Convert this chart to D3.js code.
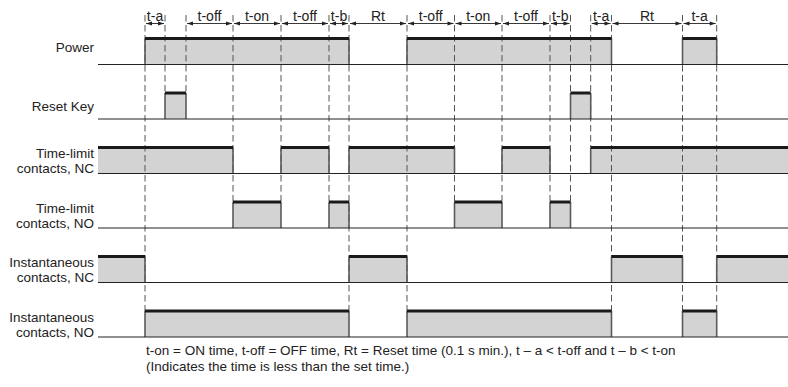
<!DOCTYPE html>
<html><head><meta charset="utf-8">
<script src="https://cdn.jsdelivr.net/npm/d3@7"></script>
<style>
html,body{margin:0;padding:0;background:#fff;}
svg{display:block;font-family:"Liberation Sans",Arial,sans-serif;}
</style></head>
<body><svg id="c" width="788" height="387"></svg>
<script>
// ---- data (time units along the horizontal axis) ----
const timeDomain = [0, 690];
const signalLabels = [["Power"], ["Reset Key"], ["Time-limit", "contacts, NC"], ["Time-limit", "contacts, NO"], ["Instantaneous", "contacts, NC"], ["Instantaneous", "contacts, NO"]];
const powerOn = [[47, 251], [309, 513.5], [584.5, 618.7]];
const resetKeyOn = [[67, 88], [472.5, 492.7]];
const timeLimitNC = [[0, 135], [183, 231], [251, 356.5], [404, 452], [492.7, 690]];
const timeLimitNO = [[135, 183], [231, 251], [356.5, 404], [452, 472.5]];
const instantNC = [[0, 47], [251, 309], [513.5, 584.5], [618.7, 690]];
const instantNO = [[47, 251], [309, 513.5], [584.5, 618.7]];
const intervalStarts = [47, 88, 135, 183, 231, 251, 309, 356.5, 404, 452, 492.7, 513.5, 584.5];
const intervalEnds = [67, 135, 183, 231, 251, 309, 356.5, 404, 452, 472.5, 513.5, 584.5, 618.7];
const intervalNames = ["t-a", "t-off", "t-on", "t-off", "t-b", "Rt", "t-off", "t-on", "t-off", "t-b", "t-a", "Rt", "t-a"];
const guideTimes = [47, 67, 88, 135, 183, 231, 251, 309, 356.5, 404, 452, 472.5, 492.7, 513.5, 584.5, 618.7];
const guideLastRow = [5, 1, 1, 3, 3, 3, 5, 5, 3, 3, 3, 3, 2, 5, 5, 5];
const footnote = ["t-on = ON time, t-off = OFF time, Rt = Reset time (0.1 s min.), t \u2013 a < t-off and t \u2013 b < t-on",
                  "(Indicates the time is less than the set time.)"];

const signals = [powerOn, resetKeyOn, timeLimitNC, timeLimitNO, instantNC, instantNO];

// ---- scales ----
const x = d3.scaleLinear().domain(timeDomain).range([98, 788]);
const yBase = d3.scaleLinear().domain([0, 5]).range([64.5, 337]);
const pulseH = 26;

const svg = d3.select("#c");

// fills
signals.forEach((segs, r) => {
  svg.selectAll(null).data(segs).enter().append("rect")
    .attr("x", d => x(d[0])).attr("y", yBase(r) - pulseH)
    .attr("width", d => x(d[1]) - x(d[0])).attr("height", pulseH)
    .attr("fill", "#d3d3d3");
});

// dashed guides
svg.append("g").selectAll("line").data(guideTimes).enter().append("line")
  .attr("x1", d => x(d)).attr("x2", d => x(d))
  .attr("y1", 15).attr("y2", (d, i) => yBase(guideLastRow[i]) - pulseH)
  .attr("stroke", "#555").attr("stroke-width", 1).attr("stroke-dasharray", "6.5,3.5");

// pulse edges
signals.forEach((segs, r) => {
  const g = svg.append("g");
  const edges = [];
  segs.forEach(d => {
    if (d[0] > timeDomain[0]) edges.push(d[0]);
    if (d[1] < timeDomain[1]) edges.push(d[1]);
  });
  g.selectAll("line.e").data(edges).enter().append("line")
    .attr("x1", d => x(d)).attr("x2", d => x(d))
    .attr("y1", yBase(r) - pulseH).attr("y2", yBase(r))
    .attr("stroke", "#5a5a5a").attr("stroke-width", 1.6);
  g.selectAll("line.t").data(segs).enter().append("line")
    .attr("x1", d => x(d[0])).attr("x2", d => x(d[1]))
    .attr("y1", yBase(r) - pulseH).attr("y2", yBase(r) - pulseH)
    .attr("stroke", "#1a1a1a").attr("stroke-width", 3);
  g.append("line").attr("x1", x(timeDomain[0])).attr("x2", x(timeDomain[1]))
    .attr("y1", yBase(r)).attr("y2", yBase(r))
    .attr("stroke", "#222").attr("stroke-width", 1.2);
});

// signal labels
signalLabels.forEach((lines, r) => {
  const t = svg.append("text").attr("text-anchor", "end").attr("font-size", 13.5).attr("fill", "#222");
  if (lines.length === 1) {
    t.attr("x", 94).attr("y", yBase(r) - (r === 0 ? 12.5 : 8.3)).text(lines[0]);
  } else {
    t.append("tspan").attr("x", 94).attr("y", yBase(r) - 15.5).text(lines[0]);
    t.append("tspan").attr("x", 94).attr("y", yBase(r) - 0.3).text(lines[1]);
  }
});

// interval arrows + labels
const ay = 23.5;
const head = (xt, dir) => `M${xt},${ay} L${xt - dir * 6},${ay - 2} L${xt - dir * 6},${ay + 2} Z`;
intervalNames.forEach((name, i) => {
  const x1 = x(intervalStarts[i]) + 1, x2 = x(intervalEnds[i]) - 1;
  const g = svg.append("g");
  g.append("line").attr("x1", x1).attr("x2", x2).attr("y1", ay).attr("y2", ay)
    .attr("stroke", "#222").attr("stroke-width", 0.9);
  g.append("path").attr("d", head(x1, -1)).attr("fill", "#222");
  g.append("path").attr("d", head(x2, 1)).attr("fill", "#222");
  g.append("text").attr("x", (x1 + x2) / 2).attr("y", 20.5).attr("text-anchor", "middle")
    .attr("font-size", 14).attr("fill", "#222").text(name);
});

// footnote
footnote.forEach((s, i) => {
  svg.append("text").attr("x", 146).attr("y", 355 + i * 16)
    .attr("font-size", 13.5).attr("fill", "#222").text(s);
});
</script></body></html>
